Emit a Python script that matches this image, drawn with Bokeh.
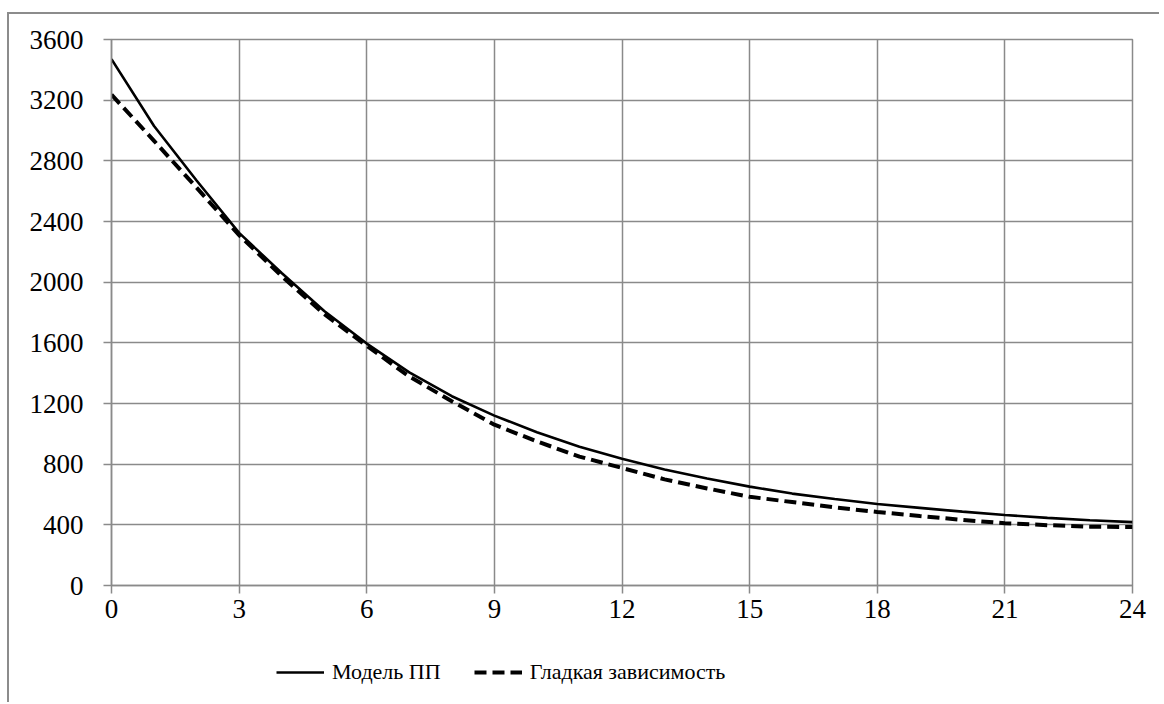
from bokeh.plotting import figure
from bokeh.layouts import column
from bokeh.models import FixedTicker, Legend, LegendItem
from bokeh.embed import file_html
from bokeh.resources import INLINE

hours = list(range(25))
model_pp = [3470, 3030, 2670, 2325, 2060, 1810, 1595, 1405, 1248, 1120, 1010, 915, 835,
            765, 705, 652, 606, 570, 537, 512, 487, 465, 446, 430, 418]
smooth = [3236, 2932, 2623, 2310, 2040, 1790, 1580, 1378, 1215, 1060, 950, 850, 775,
          700, 640, 585, 550, 515, 485, 458, 433, 410, 398, 388, 385]
x_ticks = [0, 3, 6, 9, 12, 15, 18, 21, 24]
y_ticks = [0, 400, 800, 1200, 1600, 2000, 2400, 2800, 3200, 3600]
series_names = ["Модель ПП", "Гладкая зависимость"]

GRAY = "#8a8a8a"
FONT = "Liberation Serif"
SOLID = dict(line_color="black", line_width=2.6)
DASHED = dict(line_color="black", line_width=4, line_dash="12 6")

p = figure(width=1150, height=620, x_range=(0, 24), y_range=(0, 3600),
           output_backend="svg", toolbar_location=None,
           min_border_left=102, min_border_right=27, min_border_top=25, min_border_bottom=49)

p.outline_line_color = GRAY
p.outline_line_width = 1.5

p.xaxis.ticker = FixedTicker(ticks=x_ticks)
p.yaxis.ticker = FixedTicker(ticks=y_ticks)
for ax in (p.xaxis, p.yaxis):
    ax.axis_line_color = GRAY
    ax.axis_line_width = 1.5
    ax.major_tick_line_color = GRAY
    ax.major_tick_line_width = 1.5
    ax.major_tick_out = 8
    ax.major_tick_in = 0
    ax.minor_tick_line_color = None
    ax.major_label_text_font = FONT
    ax.major_label_text_font_size = "27px"
    ax.major_label_text_color = "black"
p.yaxis.major_label_standoff = 20
p.xaxis.major_label_standoff = 6

p.grid.grid_line_color = GRAY
p.grid.grid_line_width = 1.5

p.line(hours, model_pp, **SOLID)
p.line(hours, smooth, **DASHED)

# legend strip below the chart (its frame is aligned with the chart's frame)
leg = figure(width=1150, height=68, x_range=(0, 1), y_range=(0, 1),
             output_backend="svg", toolbar_location=None,
             x_axis_type=None, y_axis_type=None, min_border=0)
leg.outline_line_color = None
leg.grid.visible = False
# sample renderers lie outside the visible range; only their legend glyphs show
l1 = leg.line([5, 6], [5, 5], **SOLID)
l2 = leg.line([5, 6], [5, 5], **DASHED)
legend = Legend(items=[LegendItem(label=series_names[0], renderers=[l1]),
                       LegendItem(label=series_names[1], renderers=[l2])],
                location=(165, 17), orientation="horizontal",
                glyph_width=48, glyph_height=20, label_height=20,
                label_standoff=8, spacing=33, padding=0, margin=0,
                border_line_color=None, background_fill_alpha=0,
                label_text_font=FONT, label_text_font_size="22px",
                label_text_color="black")
leg.add_layout(legend, "center")

layout = column(p, leg, spacing=0,
                styles={"border-left": "2px solid #8c8c8c", "border-top": "2px solid #8c8c8c",
                        "margin-top": "12px", "margin-left": "7px"})

open("out.html", "w").write(file_html(layout, INLINE))
